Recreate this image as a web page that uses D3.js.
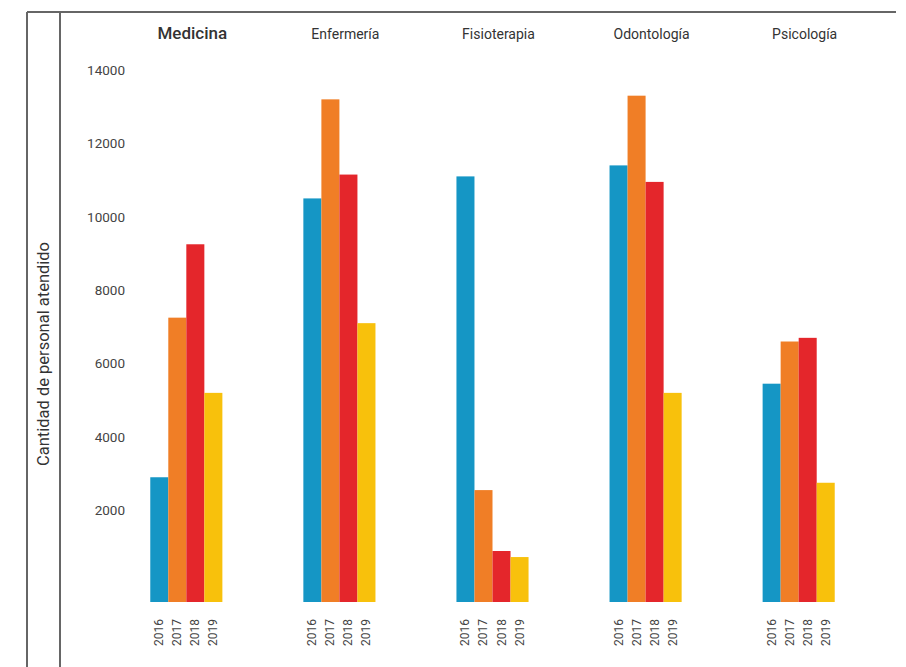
<!DOCTYPE html>
<html>
<head>
<meta charset="utf-8">
<script src="https://cdn.jsdelivr.net/npm/d3@7"></script>
<style>
  html, body { margin: 0; padding: 0; background: #fff; }
  svg { display: block; }
</style>
</head>
<body>
<svg id="chart" width="906" height="667"></svg>
<script>
// ---- data ----
const categories = ["Medicina", "Enfermería", "Fisioterapia", "Odontología", "Psicología"];
const years = ["2016", "2017", "2018", "2019"];
const values2016 = [2900, 10500, 11100, 11400, 5450];
const values2017 = [7250, 13200, 2550, 13300, 6600];
const values2018 = [9250, 11150, 890, 10950, 6700];
const values2019 = [5200, 7100, 725, 5200, 2750];
const yTicks = [2000, 4000, 6000, 8000, 10000, 12000, 14000];
const yTitle = "Cantidad de personal atendido";

const seriesValues = [values2016, values2017, values2018, values2019];
const colors = ["#1596c5", "#f07e26", "#e4262b", "#f8c10c"];

const svg = d3.select("#chart");

// ---- frame ----
const frame = svg.append("g").attr("stroke", "#666").attr("stroke-width", 2);
frame.append("line").attr("x1", 27).attr("x2", 896).attr("y1", 12).attr("y2", 12);
frame.append("line").attr("x1", 27).attr("x2", 27).attr("y1", 12).attr("y2", 667);
frame.append("line").attr("x1", 60).attr("x2", 60).attr("y1", 12).attr("y2", 667);

// ---- scales ----
const x0 = d3.scaleBand().domain(categories).range([112, 873]).paddingInner(0.529).paddingOuter(0.25);
const x1 = d3.scaleBand().domain(years).range([0, x0.bandwidth()]).padding(0);
const y = d3.scaleLinear().domain([-500, 14000]).range([602, 70]);
const color = d3.scaleOrdinal().domain(years).range(colors);

// ---- y tick labels ----
const yAxis = d3.axisLeft(y).tickValues(yTicks).tickSize(0).tickPadding(0).tickFormat(d3.format("d"));
const gy = svg.append("g").attr("transform", "translate(125,0)").call(yAxis);
gy.select(".domain").remove();
gy.selectAll("text")
  .attr("font-family", "Roboto, 'Liberation Sans', sans-serif")
  .attr("font-size", 13.5)
  .attr("fill", "#444");

// ---- y title ----
svg.append("text")
  .attr("transform", "translate(49,354) rotate(-90)")
  .attr("text-anchor", "middle")
  .attr("font-family", "Roboto, 'Liberation Sans', sans-serif")
  .attr("font-size", 16.5)
  .attr("fill", "#333")
  .text(yTitle);

// ---- bars ----
const groups = svg.append("g").selectAll("g")
  .data(categories)
  .join("g")
  .attr("transform", d => `translate(${x0(d)},0)`);

groups.selectAll("rect")
  .data((d, i) => years.map((yr, j) => ({ year: yr, value: seriesValues[j][i] })))
  .join("rect")
  .attr("x", d => x1(d.year))
  .attr("width", x1.bandwidth())
  .attr("y", d => y(d.value))
  .attr("height", d => y.range()[0] - y(d.value))
  .attr("fill", d => color(d.year));

// ---- year labels ----
groups.selectAll("text.yr")
  .data(years)
  .join("text")
  .attr("class", "yr")
  .attr("transform", d => `translate(${x1(d) + x1.bandwidth() / 2 + 4},619) rotate(-90)`)
  .attr("text-anchor", "end")
  .attr("font-family", "Roboto, 'Liberation Sans', sans-serif")
  .attr("font-size", 12)
  .attr("fill", "#444")
  .text(d => d);

// ---- category titles ----
groups.append("text")
  .attr("x", x0.bandwidth() / 2 + 6)
  .attr("y", 39)
  .attr("text-anchor", "middle")
  .attr("font-family", "Roboto, 'Liberation Sans', sans-serif")
  .attr("font-size", (d, i) => i === 0 ? 17 : 14)
  .attr("font-weight", (d, i) => i === 0 ? 500 : 400)
  .attr("fill", "#333")
  .text(d => d);
</script>
</body>
</html>
